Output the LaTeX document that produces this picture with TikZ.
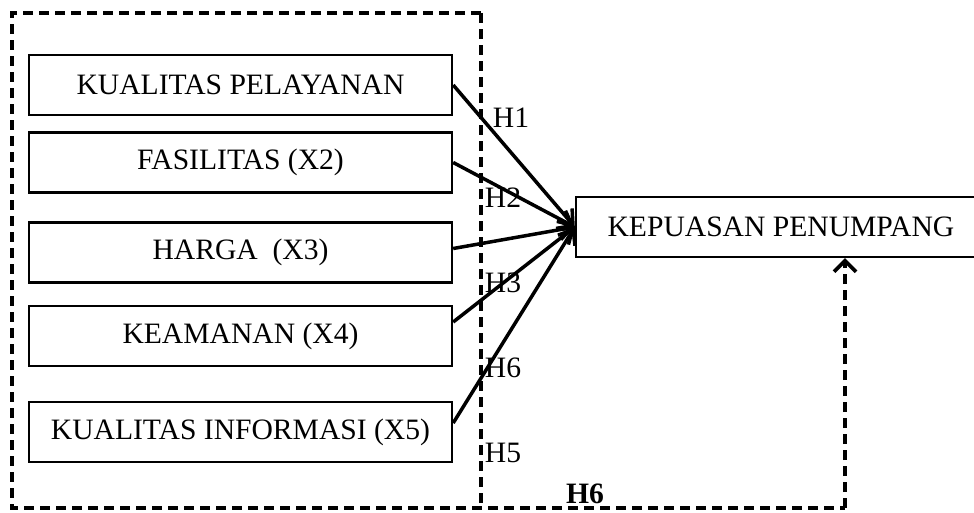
\documentclass[tikz,border=0pt]{standalone}
\usepackage{fontspec}
\setmainfont{Liberation Serif}
\usetikzlibrary{arrows.meta,calc}
\begin{document}
\begin{tikzpicture}[x=1pt,y=-1pt,
  box/.style={draw,line width=2.4pt,inner sep=0pt,minimum width=423pt,minimum height=60pt,font=\fontsize{29.6}{34}\selectfont},
  arr/.style={line width=3.5pt,-{Straight Barb[length=13pt,width=20pt,line width=3.5pt]}},
  dsh/.style={line width=3.6pt,dash pattern=on 10pt off 6pt},
  lbl/.style={font=\fontsize{29.6}{34}\selectfont,inner sep=0pt}]
\useasboundingbox (0,0) rectangle (974,512);
% left boxes
\node[box] (b1) at (240.5,85) {KUALITAS PELAYANAN};
\node[box] (b2) at (240.5,162.5) {FASILITAS (X2)};
\node[box] (b3) at (240.5,252.5) {HARGA\ \ (X3)};
\node[box] (b4) at (240.5,336) {KEAMANAN (X4)};
\node[box] (b5) at (240.5,432) {KUALITAS INFORMASI (X5)};
% right box
\node[box,minimum width=410pt] (kp) at (781,227) {KEPUASAN PENUMPANG};
% dashed frame
\coordinate (tl) at (12,13);
\coordinate (tr) at (481,13);
\coordinate (bl) at (12,508);
\coordinate (br) at (481,508);
\coordinate (bend) at (845,508);
\draw[dsh] (tr) -- (tl) -- (bl) -- (bend);
\draw[dsh] (tr) -- (br);
\draw[dsh,-{Straight Barb[length=11pt,width=22pt,line width=3.6pt]}] (bend) -- (kp.south -| bend);
% arrows
\draw[arr] (b1.east) -- (kp.west);
\draw[arr] (b2.east) -- (kp.west);
\draw[arr] ([yshift=4pt]b3.east) -- (kp.west);
\draw[arr] ([yshift=14pt]b4.east) -- (kp.west);
\draw[arr] ([yshift=9pt]b5.east) -- (kp.west);
% labels
\node[lbl] (h1) at (511,118) {H1};
\node[lbl] (h2) at (503,198) {H2};
\node[lbl] (h3) at (503,283) {H3};
\node[lbl] (h6a) at (503,368) {H6};
\node[lbl] (h5) at (503,453) {H5};
\node[lbl,font=\fontsize{29.6}{34}\selectfont\bfseries] (h6b) at (585,494) {H6};
\end{tikzpicture}
\end{document}
